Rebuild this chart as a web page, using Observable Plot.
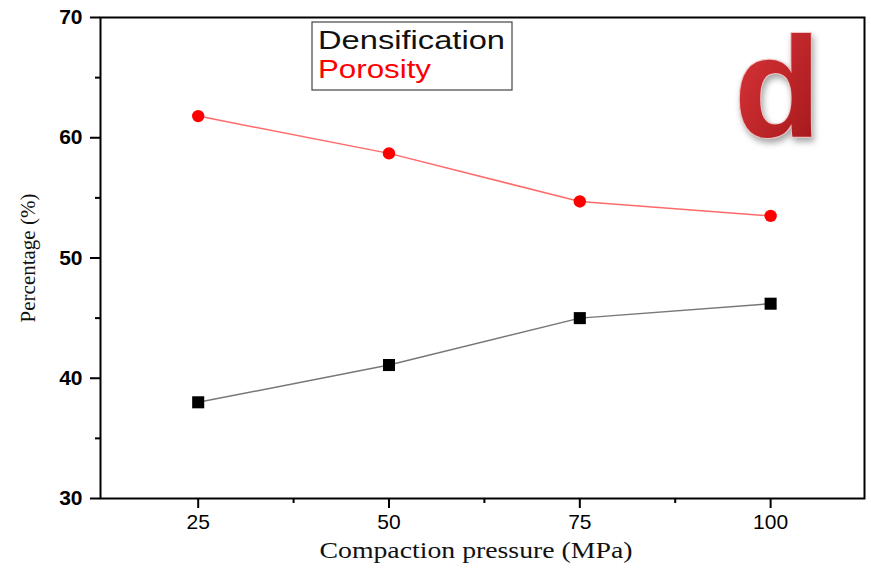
<!DOCTYPE html>
<html>
<head>
<meta charset="utf-8">
<script src="https://cdn.jsdelivr.net/npm/d3@7"></script>
<script src="https://cdn.jsdelivr.net/npm/@observablehq/plot@0.6"></script>
<style>
  html, body { margin: 0; padding: 0; background: #fff; }
  #chart { width: 871px; height: 574px; }
</style>
</head>
<body>
<div id="chart"></div>
<script>
// ---- data ----
const pressures = [25, 50, 75, 100];
const densification = [38.0, 41.1, 45.0, 46.2];
const porosity = [61.8, 58.7, 54.7, 53.5];
const yTicks = [30, 40, 50, 60, 70];
const yMinorTicks = [35, 45, 55, 65];
const xTicks = [25, 50, 75, 100];
const xMinorTicks = [37.5, 62.5, 87.5];
const seriesNames = ["Densification", "Porosity"];

const densData = pressures.map((p, i) => ({x: p, y: densification[i]}));
const poroData = pressures.map((p, i) => ({x: p, y: porosity[i]}));

const tickFont = "'Liberation Sans', Arial, sans-serif";

const plot = Plot.plot({
  width: 871,
  height: 574,
  marginLeft: 100,
  marginRight: 7,
  marginTop: 17,
  marginBottom: 76,
  style: {fontFamily: tickFont, background: "#fff", overflow: "visible"},
  x: {domain: [12.2, 112.3]},
  y: {domain: [30, 70]},
  marks: [
    Plot.axisY({ticks: yTicks, tickSize: 10, tickPadding: 8, fontSize: 21, fontWeight: "bold", label: null, tickFormat: d3.format("d"), strokeWidth: 2}),
    Plot.axisY({ticks: yMinorTicks, tickSize: 5, text: null, label: null, strokeWidth: 2}),
    Plot.axisX({ticks: xTicks, tickSize: 10, tickPadding: 6, fontSize: 21, label: null, tickFormat: d3.format("d"), strokeWidth: 2}),
    Plot.axisX({ticks: xMinorTicks, tickSize: 5, text: null, label: null, strokeWidth: 2}),
    Plot.frame({stroke: "black", strokeWidth: 2}),
    Plot.line(densData, {x: "x", y: "y", stroke: "#777", strokeWidth: 1.5}),
    Plot.line(poroData, {x: "x", y: "y", stroke: "#ff6a6a", strokeWidth: 1.5}),
    Plot.dot(densData, {x: "x", y: "y", symbol: "square", r: 6.8, fill: "black", stroke: "none"}),
    Plot.dot(poroData, {x: "x", y: "y", symbol: "circle", r: 6.2, fill: "#ff0000", stroke: "none"})
  ]
});

document.getElementById("chart").appendChild(plot);

// ---- annotations: axis titles, legend, panel letter ----
const svg = d3.select(plot);

// y-axis title
svg.append("text")
  .attr("transform", "translate(35,258) rotate(-90)")
  .attr("text-anchor", "middle")
  .attr("font-family", "'Liberation Serif', 'Times New Roman', serif")
  .attr("font-size", 21)
  .attr("fill", "#111")
  .text("Percentage (%)");

// x-axis title
svg.append("text")
  .attr("x", 476)
  .attr("y", 558)
  .attr("text-anchor", "middle")
  .attr("font-family", "'Liberation Serif', 'Times New Roman', serif")
  .attr("font-size", 23)
  .attr("fill", "#111")
  .attr("textLength", 313)
  .attr("lengthAdjust", "spacingAndGlyphs")
  .text("Compaction pressure (MPa)");

// legend
svg.append("rect")
  .attr("x", 312).attr("y", 22).attr("width", 200).attr("height", 68)
  .attr("fill", "white").attr("stroke", "#444").attr("stroke-width", 1.2);
const legendColors = ["#111", "#ff0000"];
const legendWidths = [187, 113];
seriesNames.forEach((name, i) => {
  svg.append("text")
    .attr("x", 318)
    .attr("y", 49 + i * 29)
    .attr("text-anchor", "start")
    .attr("font-family", tickFont)
    .attr("font-size", 26)
    .attr("fill", legendColors[i])
    .attr("textLength", legendWidths[i])
    .attr("lengthAdjust", "spacingAndGlyphs")
    .text(name);
});

// panel letter "d"
const defs = svg.append("defs");
const grad = defs.append("linearGradient").attr("id", "dgrad").attr("x1", 0).attr("y1", 0).attr("x2", 1).attr("y2", 1);
grad.append("stop").attr("offset", "0%").attr("stop-color", "#e0383c");
grad.append("stop").attr("offset", "100%").attr("stop-color", "#9e1518");
svg.append("text")
  .attr("x", 734)
  .attr("y", 137)
  .attr("text-anchor", "start")
  .attr("font-family", tickFont)
  .attr("font-weight", "bold")
  .attr("font-size", 142)
  .attr("fill", "url(#dgrad)")
  .attr("stroke", "#f3c4c4")
  .attr("stroke-width", 2)
  .attr("paint-order", "stroke")
  .style("filter", "drop-shadow(2px 4px 3px rgba(0,0,0,0.35))")
  .text("d");
</script>
</body>
</html>
